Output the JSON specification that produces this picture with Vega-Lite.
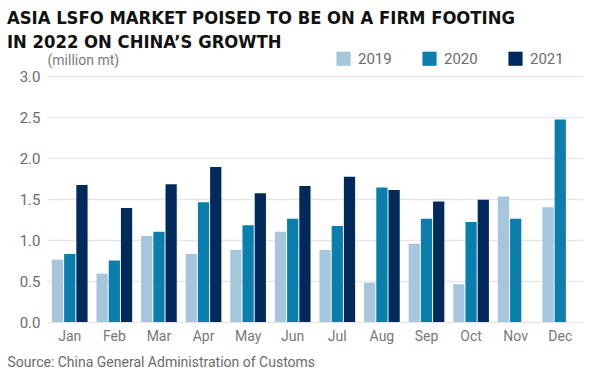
{
  "$schema": "https://vega.github.io/schema/vega-lite/v6.json",
  "width": 536,
  "height": 246,
  "autosize": {"type": "none"},
  "padding": {"left": 47, "top": 76, "right": 11, "bottom": 52},
  "background": "white",
  "title": {
    "text": ["ASIA LSFO MARKET POISED TO BE ON A FIRM FOOTING", "IN 2022 ON CHINA’S GROWTH"],
    "anchor": "start",
    "frame": "group",
    "orient": "top",
    "font": "DejaVu Sans Condensed",
    "fontSize": 18.3,
    "fontWeight": "bold",
    "color": "#111111",
    "lineHeight": 24,
    "dx": -40,
    "dy": 29,
    "offset": 28
  },
  "data": {
    "values": [
      {"month": "Jan", "year": "2019", "value": 0.76},
      {"month": "Jan", "year": "2020", "value": 0.83},
      {"month": "Jan", "year": "2021", "value": 1.67},
      {"month": "Feb", "year": "2019", "value": 0.59},
      {"month": "Feb", "year": "2020", "value": 0.75},
      {"month": "Feb", "year": "2021", "value": 1.39},
      {"month": "Mar", "year": "2019", "value": 1.05},
      {"month": "Mar", "year": "2020", "value": 1.10},
      {"month": "Mar", "year": "2021", "value": 1.68},
      {"month": "Apr", "year": "2019", "value": 0.83},
      {"month": "Apr", "year": "2020", "value": 1.46},
      {"month": "Apr", "year": "2021", "value": 1.89},
      {"month": "May", "year": "2019", "value": 0.88},
      {"month": "May", "year": "2020", "value": 1.18},
      {"month": "May", "year": "2021", "value": 1.57},
      {"month": "Jun", "year": "2019", "value": 1.10},
      {"month": "Jun", "year": "2020", "value": 1.26},
      {"month": "Jun", "year": "2021", "value": 1.66},
      {"month": "Jul", "year": "2019", "value": 0.88},
      {"month": "Jul", "year": "2020", "value": 1.17},
      {"month": "Jul", "year": "2021", "value": 1.77},
      {"month": "Aug", "year": "2019", "value": 0.48},
      {"month": "Aug", "year": "2020", "value": 1.64},
      {"month": "Aug", "year": "2021", "value": 1.61},
      {"month": "Sep", "year": "2019", "value": 0.955},
      {"month": "Sep", "year": "2020", "value": 1.26},
      {"month": "Sep", "year": "2021", "value": 1.47},
      {"month": "Oct", "year": "2019", "value": 0.46},
      {"month": "Oct", "year": "2020", "value": 1.22},
      {"month": "Oct", "year": "2021", "value": 1.49},
      {"month": "Nov", "year": "2019", "value": 1.53},
      {"month": "Nov", "year": "2020", "value": 1.26},
      {"month": "Dec", "year": "2019", "value": 1.40},
      {"month": "Dec", "year": "2020", "value": 2.47}
    ]
  },
  "mark": {"type": "bar"},
  "encoding": {
    "x": {
      "field": "month",
      "type": "nominal",
      "sort": ["Jan", "Feb", "Mar", "Apr", "May", "Jun", "Jul", "Aug", "Sep", "Oct", "Nov", "Dec"],
      "scale": {"paddingInner": 0.2, "paddingOuter": 0.11},
      "axis": {
        "title": "Source: China General Administration of Customs",
        "titleX": -40,
        "titleY": 40,
        "titleAlign": "left",
        "titleAnchor": "start",
        "titleBaseline": "middle",
        "titleFont": "Roboto",
        "titleFontSize": 14,
        "titleFontWeight": "normal",
        "titleColor": "#6b6b6b",
        "labelAngle": 0,
        "labelFont": "Roboto",
        "labelFontSize": 14,
        "labelColor": "#777777",
        "labelPadding": 7,
        "domain": false,
        "ticks": false,
        "grid": false
      }
    },
    "xOffset": {
      "field": "year",
      "type": "nominal",
      "scale": {"domain": ["2019", "2020", "2021"], "paddingInner": 0.08}
    },
    "y": {
      "field": "value",
      "type": "quantitative",
      "scale": {"domain": [0, 3]},
      "axis": {
        "title": "(million mt)",
        "titleAngle": 0,
        "titleX": 0,
        "titleY": -16,
        "titleAlign": "left",
        "titleBaseline": "middle",
        "titleFont": "Roboto",
        "titleFontSize": 14,
        "titleFontWeight": "normal",
        "titleColor": "#7a7a7a",
        "tickCount": 6,
        "format": ".1f",
        "labelFont": "Roboto",
        "labelFontSize": 15,
        "labelColor": "#6b6b6b",
        "labelPadding": 7,
        "domain": false,
        "ticks": false,
        "gridColor": "#e8e8e8",
        "gridWidth": 1.5
      }
    },
    "color": {
      "field": "year",
      "type": "nominal",
      "scale": {"domain": ["2019", "2020", "2021"], "range": ["#a6c6dd", "#0a7fae", "#002a5c"]},
      "legend": {
        "title": null,
        "orient": "none",
        "direction": "horizontal",
        "legendX": 289,
        "legendY": -25,
        "symbolType": "square",
        "symbolSize": 200,
        "symbolStrokeWidth": 0,
        "labelFont": "Roboto",
        "labelFontSize": 15,
        "labelColor": "#6b6b6b",
        "labelOffset": 7,
        "columnPadding": 30
      }
    }
  },
  "config": {"view": {"stroke": null}}
}
